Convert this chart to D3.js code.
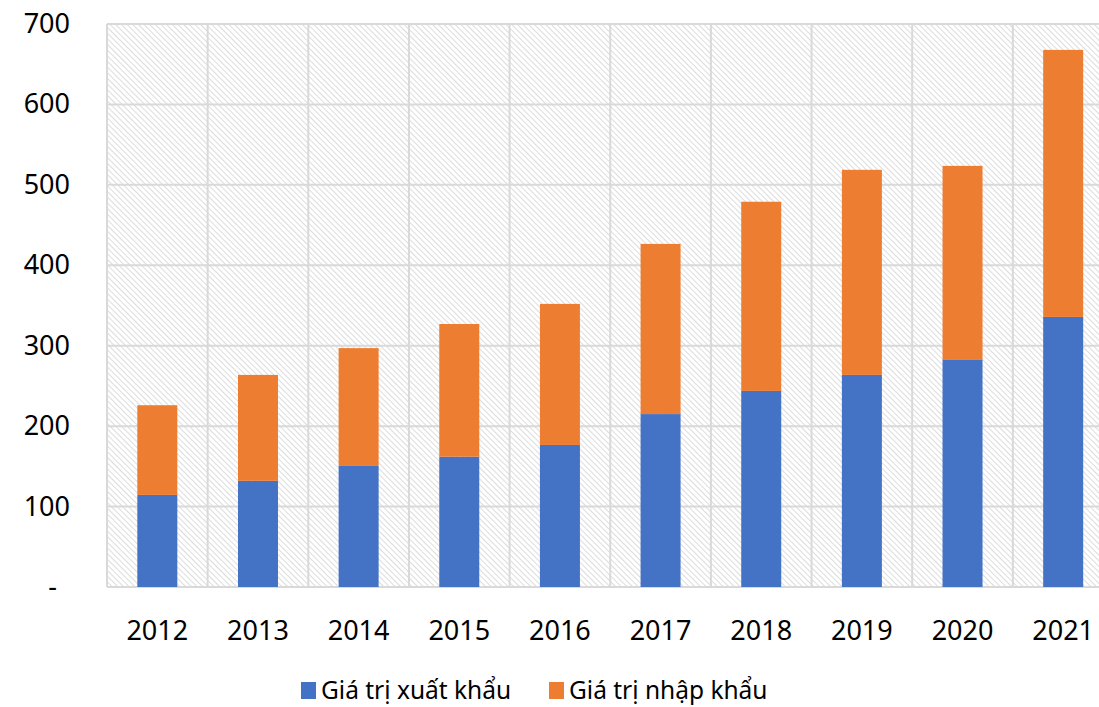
<!DOCTYPE html>
<html>
<head>
<meta charset="utf-8">
<script src="https://cdn.jsdelivr.net/npm/d3@7"></script>
<style>
  body { margin: 0; background: #fff; }
  text { font-family: "Noto Sans", sans-serif; fill: #000; }
</style>
</head>
<body>
<script>
// years and the two stacked series
var years = ["2012","2013","2014","2015","2016","2017","2018","2019","2020","2021"];
var exportVals = [114.5, 132, 150.5, 162, 176.6, 215, 243.8, 263.7, 282.3, 335.8];
var importVals = [111.5, 131.7, 146.5, 165, 175.4, 211.6, 235.2, 255, 241.3, 332];
var seriesNames = ["Giá trị xuất khẩu", "Giá trị nhập khẩu"];
var colors = ["#4472c4", "#ed7d31"];
var yTicks = [0, 100, 200, 300, 400, 500, 600, 700];

var W = 1099, H = 707;
var plotLeft = 107, plotTop = 24, plotBottom = 587;
var bandW = 100.65;

var svg = d3.select("body").append("svg").attr("width", W).attr("height", H);

// hatched background pattern
var defs = svg.append("defs");
var pat = defs.append("pattern").attr("id", "hatch")
  .attr("patternUnits", "userSpaceOnUse").attr("width", 4).attr("height", 4)
  .attr("patternTransform", "rotate(-45)");
pat.append("rect").attr("width", 4).attr("height", 4).attr("fill", "#fff");
pat.append("line").attr("x1", 0).attr("y1", 0).attr("x2", 0).attr("y2", 4)
  .attr("stroke", "#d4d4d4").attr("stroke-width", 1.6);

var x = d3.scaleBand().domain(years).range([plotLeft, plotLeft + bandW * years.length]);
var y = d3.scaleLinear().domain([0, 700]).range([plotBottom, plotTop]);

svg.append("rect").attr("x", plotLeft).attr("y", plotTop)
  .attr("width", bandW * years.length).attr("height", plotBottom - plotTop)
  .attr("fill", "url(#hatch)");

// gridlines
svg.selectAll(".hg").data(yTicks).enter().append("line")
  .attr("x1", plotLeft).attr("x2", plotLeft + bandW * years.length)
  .attr("y1", function(d){ return y(d); }).attr("y2", function(d){ return y(d); })
  .attr("stroke", "#d9d9d9").attr("stroke-width", 2);
svg.selectAll(".vg").data(years.concat(["end"])).enter().append("line")
  .attr("x1", function(d, i){ return plotLeft + i * bandW; })
  .attr("x2", function(d, i){ return plotLeft + i * bandW; })
  .attr("y1", plotTop).attr("y2", plotBottom)
  .attr("stroke", "#d9d9d9").attr("stroke-width", 2);

// stacked bars
var rows = years.map(function(yr, i){ return {year: yr, exp: exportVals[i], imp: importVals[i]}; });
var stack = d3.stack().keys(["exp", "imp"])(rows);
var barW = 40;
svg.selectAll(".series").data(stack).enter().append("g")
  .attr("fill", function(d, i){ return colors[i]; })
  .selectAll("rect").data(function(d){ return d; }).enter().append("rect")
  .attr("x", function(d){ return x(d.data.year) + x.bandwidth() / 2 - barW / 2; })
  .attr("width", barW)
  .attr("y", function(d){ return y(d[1]); })
  .attr("height", function(d){ return y(d[0]) - y(d[1]); });

// y axis labels
svg.selectAll(".yl").data(yTicks).enter().append("text")
  .attr("x", function(d){ return d === 0 ? 57 : 70; })
  .attr("y", function(d){ return y(d) + 9; })
  .attr("text-anchor", "end").style("font-size", "27px")
  .text(function(d){ return d === 0 ? "-" : d; });

// x axis labels
svg.selectAll(".xl").data(years).enter().append("text")
  .attr("x", function(d){ return x(d) + x.bandwidth() / 2; })
  .attr("y", 640).attr("text-anchor", "middle").style("font-size", "27px")
  .text(function(d){ return d; });

// legend
var legX = [301, 549];
seriesNames.forEach(function(name, i){
  svg.append("rect").attr("x", legX[i]).attr("y", 682).attr("width", 15).attr("height", 17)
    .attr("fill", colors[i]);
  svg.append("text").attr("x", legX[i] + 20).attr("y", 699)
    .style("font-size", "24.5px").text(name);
});
</script>
</body>
</html>
